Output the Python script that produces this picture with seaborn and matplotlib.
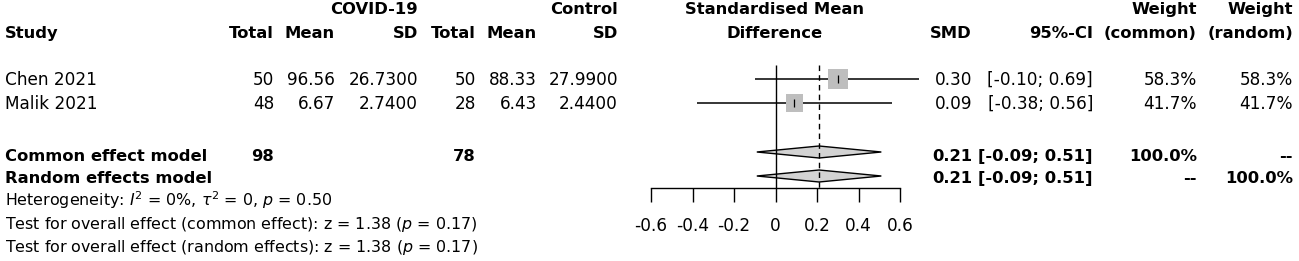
# Forest plot: SMD COVID-19 vs control
import numpy as np
import pandas as pd
import seaborn as sns
import matplotlib.pyplot as plt

# study level data
studies = ["Chen 2021", "Malik 2021"]
covid_total = [50, 48]
covid_mean = [96.56, 6.67]
covid_sd = [26.73, 2.74]
ctrl_total = [50, 28]
ctrl_mean = [88.33, 6.43]
ctrl_sd = [27.99, 2.44]
smd = [0.30, 0.09]
ci_low = [-0.10, -0.38]
ci_high = [0.69, 0.56]
weight_common = [58.3, 41.7]
weight_random = [58.3, 41.7]

# pooled estimates
models = ["Common effect model", "Random effects model"]
model_covid_total = ["98", ""]
model_ctrl_total = ["78", ""]
model_smd = [0.21, 0.21]
model_low = [-0.09, -0.09]
model_high = [0.51, 0.51]
model_w_common = ["100.0%", "--"]
model_w_random = ["--", "100.0%"]

xticks = [-0.6, -0.4, -0.2, 0, 0.2, 0.4, 0.6]
xtick_labels = ["-0.6", "-0.4", "-0.2", "0", "0.2", "0.4", "0.6"]

footer = [
    r"Heterogeneity: $I^2$ = 0%, $\tau^2$ = 0, $p$ = 0.50",
    r"Test for overall effect (common effect): z = 1.38 ($p$ = 0.17)",
    r"Test for overall effect (random effects): z = 1.38 ($p$ = 0.17)",
]

sns.set_style('white')
plt.rcParams['font.family'] = ['DejaVu Sans']
plt.rcParams['axes.unicode_minus'] = False

W, H = 1299, 261
FS = 12.2
FS_B = 11.8
FS_FOOT = 11.4

# layout in pixels
study_y = [79, 103]
model_y = [152, 176]
model_text_y = [155, 177]
footer_y = [200, 223, 246]
col = dict(study=5, ctot=274, cmean=335, csd=418, ktot=476, kmean=537, ksd=618,
           forest=775, smd=972, ci=1093, wc=1197, wr=1293)
px_unit = 207.5
x_zero = 775.5

fig = plt.figure(figsize=(W / 100, H / 100), dpi=100)
tab = fig.add_axes([0, 0, 1, 1])
tab.set_xlim(0, W)
tab.set_ylim(H, 0)
tab.axis('off')

ax = fig.add_axes([0, 0, 1, 1])
ax.patch.set_visible(False)
ax.set_xlim(-x_zero / px_unit, (W - x_zero) / px_unit)
ax.set_ylim(H, 0)


def put(x, y, s, ha='right', bold=False, size=None):
    if size is None:
        size = FS_B if bold else FS
    tab.text(x, y + 6, s, ha=ha, va='baseline', fontsize=size,
             fontweight='bold' if bold else 'normal', color='black')


# headers
put(col['csd'], 8, "COVID-19", bold=True)
put(col['ksd'], 8, "Control", bold=True)
put(col['forest'], 8, "Standardised Mean", ha='center', bold=True)
put(col['wc'], 8, "Weight", bold=True)
put(col['wr'], 8, "Weight", bold=True)
put(col['study'], 32, "Study", ha='left', bold=True)
for key, lab in [('ctot', 'Total'), ('cmean', 'Mean'), ('csd', 'SD'),
                 ('ktot', 'Total'), ('kmean', 'Mean'), ('ksd', 'SD'),
                 ('smd', 'SMD'), ('ci', '95%-CI'), ('wc', '(common)'),
                 ('wr', '(random)')]:
    put(col[key], 32, lab, bold=True)
put(col['forest'], 32, "Difference", ha='center', bold=True)

# study rows
for i, name in enumerate(studies):
    y = study_y[i]
    put(col['study'], y, name, ha='left')
    put(col['ctot'], y, f"{covid_total[i]}")
    put(col['cmean'], y, f"{covid_mean[i]:.2f}")
    put(col['csd'], y, f"{covid_sd[i]:.4f}")
    put(col['ktot'], y, f"{ctrl_total[i]}")
    put(col['kmean'], y, f"{ctrl_mean[i]:.2f}")
    put(col['ksd'], y, f"{ctrl_sd[i]:.4f}")
    put(col['smd'], y, f"{smd[i]:.2f}")
    put(col['ci'], y, f"[{ci_low[i]:.2f}; {ci_high[i]:.2f}]")
    put(col['wc'], y, f"{weight_common[i]:.1f}%")
    put(col['wr'], y, f"{weight_random[i]:.1f}%")

# pooled rows
for i, name in enumerate(models):
    y = model_text_y[i]
    put(col['study'], y, name, ha='left', bold=True)
    put(col['ctot'], y, model_covid_total[i], bold=True)
    put(col['ktot'], y, model_ctrl_total[i], bold=True)
    put(col['smd'], y, f"{model_smd[i]:.2f}", bold=True)
    put(col['ci'], y, f"[{model_low[i]:.2f}; {model_high[i]:.2f}]", bold=True)
    put(col['wc'], y, model_w_common[i], bold=True)
    put(col['wr'], y, model_w_random[i], bold=True)

for y, s in zip(footer_y, footer):
    put(col['study'], y, s, ha='left', size=FS_FOOT)

# forest part
ax.hlines(study_y, ci_low, ci_high, color='black', lw=1.1, zorder=1)
df = pd.DataFrame({"smd": smd, "y": study_y, "w": weight_common})
sns.scatterplot(data=df, x="smd", y="y", size="w",
                sizes={w: w * 3.7 for w in weight_common},
                marker="s", color="#bebebe", edgecolor="none",
                legend=False, ax=ax, zorder=2)
ax.scatter(smd, study_y, marker='|', s=30, color='black', lw=0.9, zorder=3)

for i in range(len(models)):
    y = model_y[i]
    ax.fill([model_low[i], model_smd[i], model_high[i], model_smd[i]],
            [y, y - 6, y, y + 6], facecolor='#d3d3d3',
            edgecolor='black', lw=1, zorder=2)

ax.vlines(0, 65, 188, color='black', lw=1, zorder=4)
ax.vlines(model_smd[0], 65, 188, color='black', lw=1,
          linestyles=(0, (4, 3)), zorder=4)

for side in ['top', 'right', 'left']:
    ax.spines[side].set_visible(False)
ax.spines['bottom'].set_position(('data', 188))
ax.spines['bottom'].set_bounds(xticks[0], xticks[-1])
ax.spines['bottom'].set_linewidth(1)
ax.spines['bottom'].set_color('black')
ax.set_xticks(xticks)
ax.set_xticklabels(xtick_labels)
ax.tick_params(axis='x', direction='out', length=10, width=1, pad=11,
               labelsize=FS, colors='black', bottom=True)
ax.set_yticks([])
ax.set_xlabel("")
ax.set_ylabel("")

fig.savefig('out.png', dpi=100)
